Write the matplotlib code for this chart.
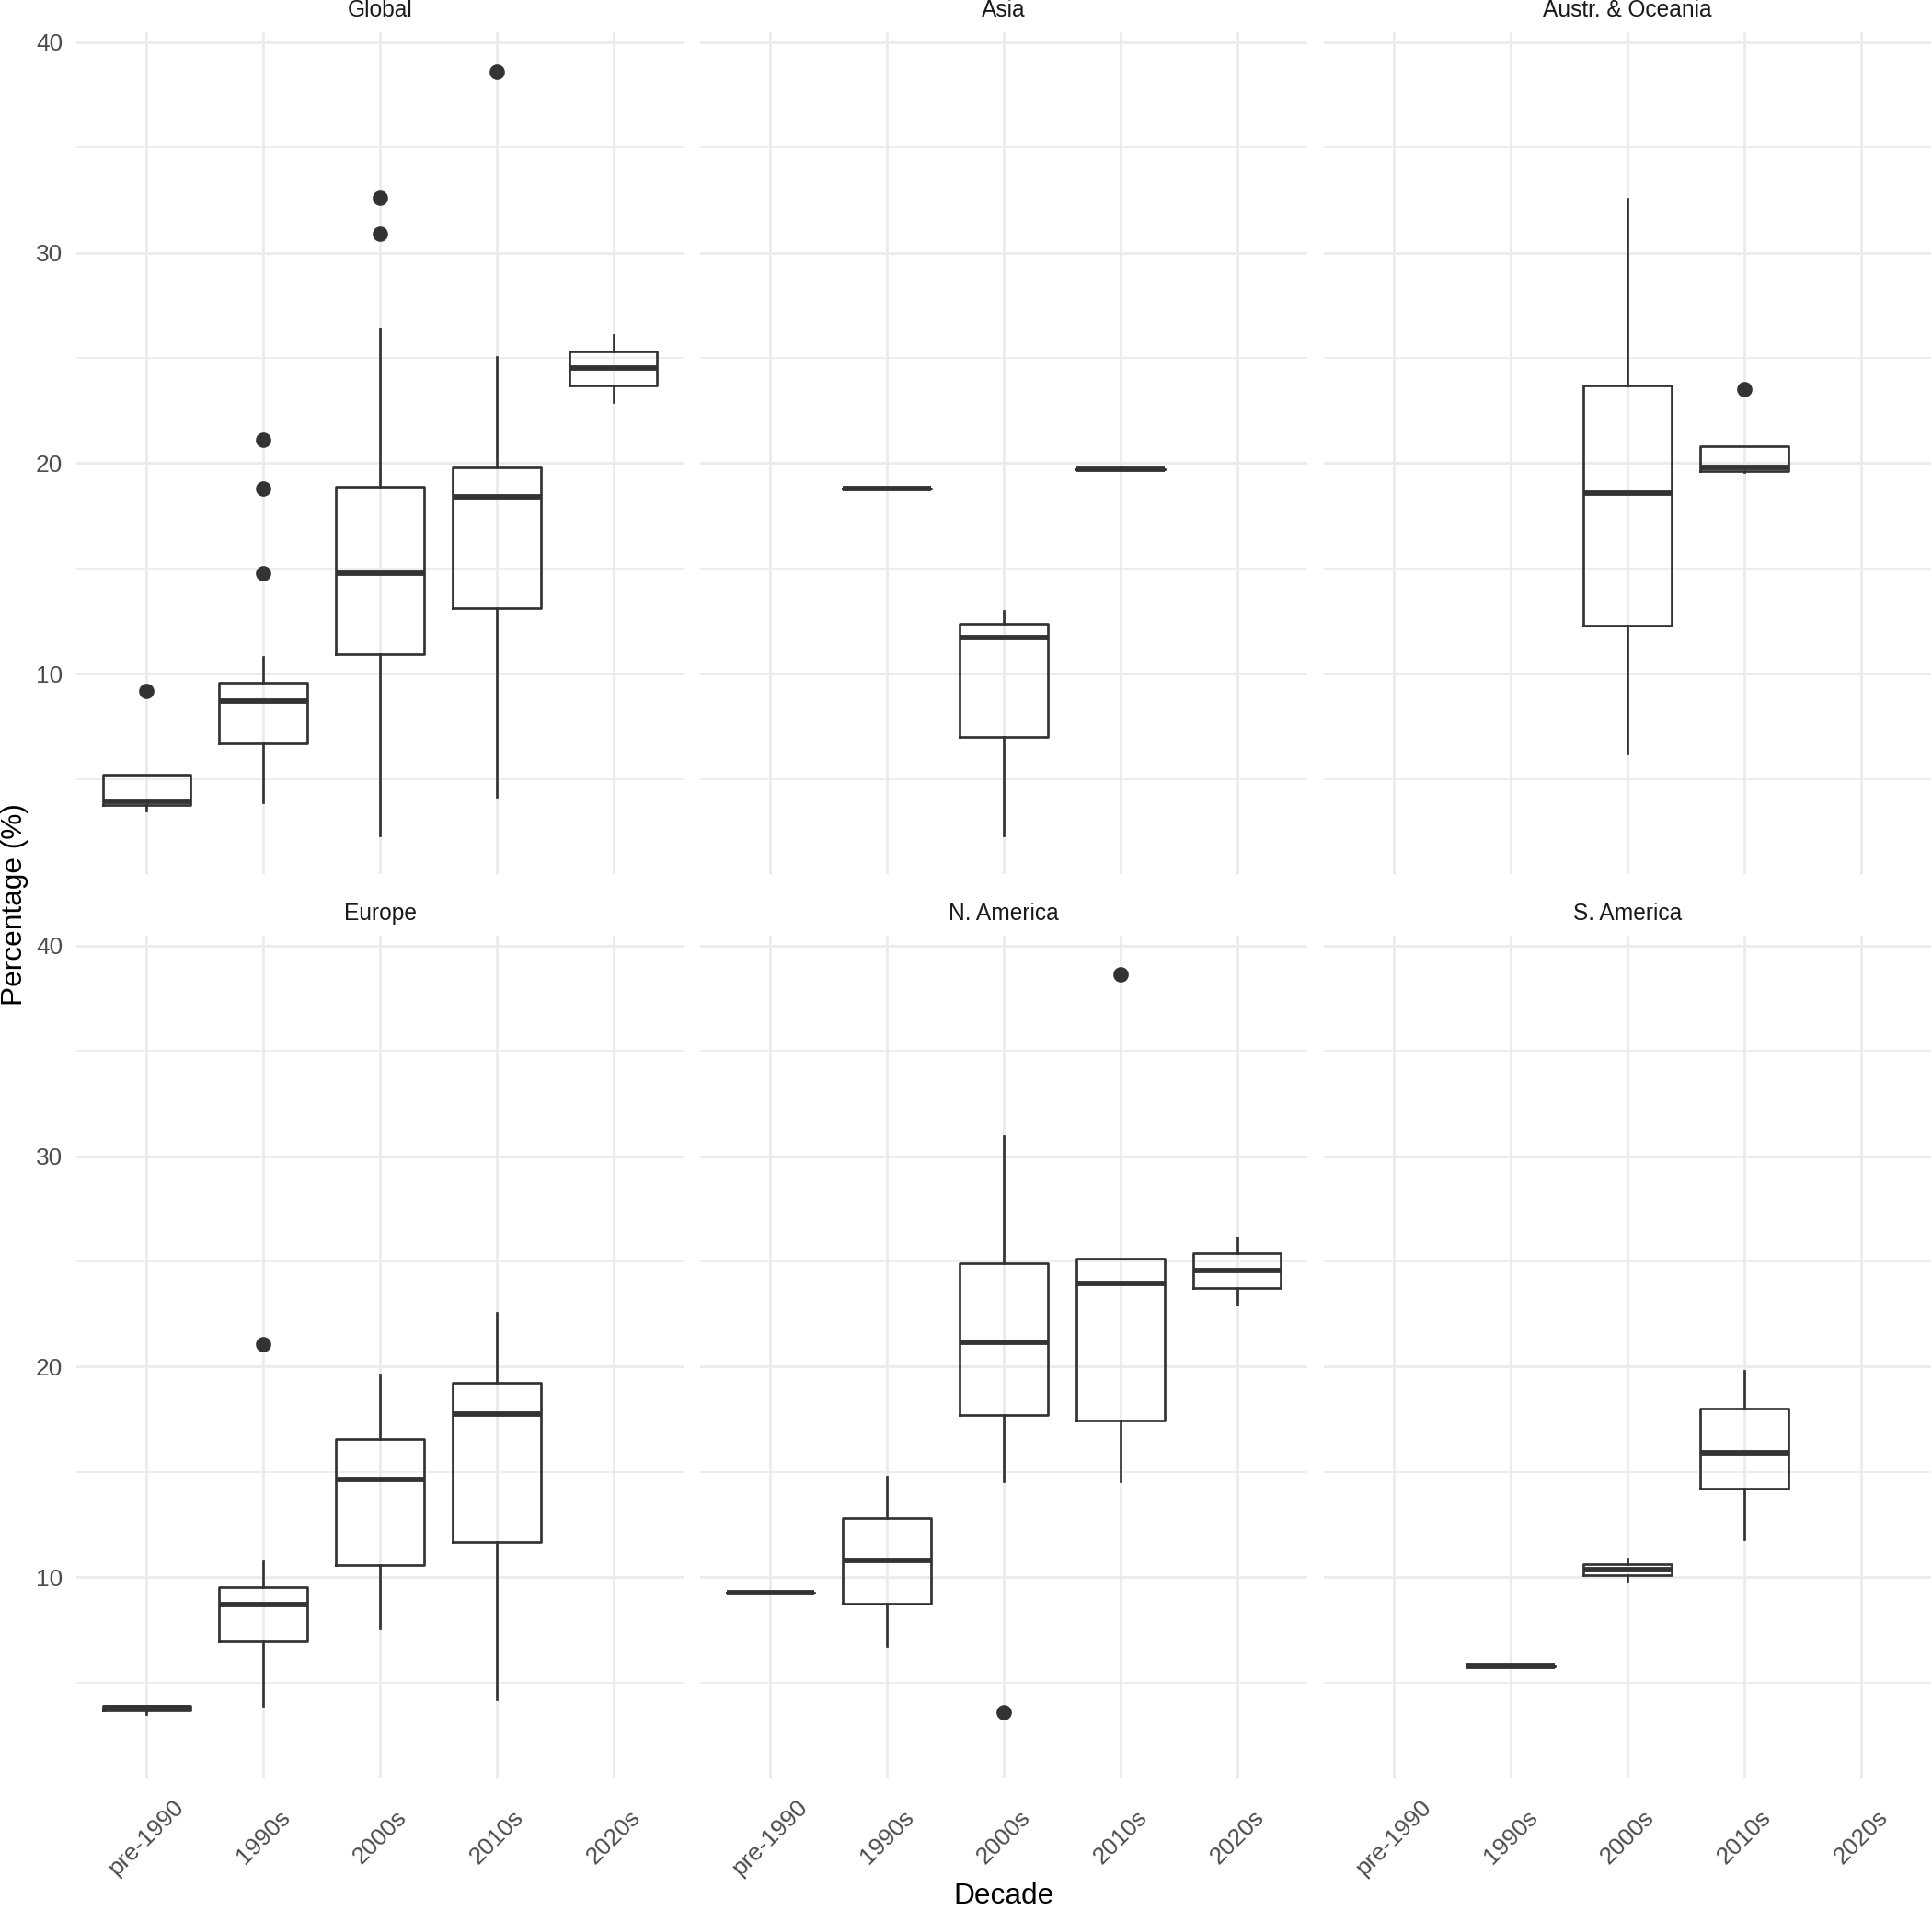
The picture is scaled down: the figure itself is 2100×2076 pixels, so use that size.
import matplotlib.pyplot as plt
from matplotlib.ticker import FixedLocator
import numpy as np

plt.rcParams['font.family'] = ['Liberation Sans', 'DejaVu Sans']

nan = np.nan

decades = ["pre-1990", "1990s", "2000s", "2010s", "2020s"]
regions = ["Global", "Asia", "Austr. & Oceania", "Europe", "N. America", "S. America"]

# box summaries: one row per region, one column per decade
q1 = [
    [3.74, 6.68, 10.94, 13.1, 23.7],
    [nan, 18.8, 6.98, 19.7, nan],
    [nan, nan, 12.3, 19.63, nan],
    [3.68, 6.96, 10.56, 11.65, nan],
    [9.25, 8.72, 17.68, 17.43, 23.72],
    [nan, 5.79, 10.08, 14.21, nan],
]
med = [
    [3.93, 8.69, 14.79, 18.4, 24.5],
    [nan, 18.8, 11.71, 19.7, nan],
    [nan, nan, 18.58, 19.79, nan],
    [3.8, 8.68, 14.63, 17.75, nan],
    [9.25, 10.78, 21.17, 23.93, 24.56],
    [nan, 5.79, 10.34, 15.9, nan],
]
q3 = [
    [5.21, 9.57, 18.88, 19.79, 25.3],
    [nan, 18.8, 12.35, 19.7, nan],
    [nan, nan, 23.69, 20.8, nan],
    [3.9, 9.52, 16.56, 19.24, nan],
    [9.25, 12.8, 24.93, 25.12, 25.37],
    [nan, 5.79, 10.61, 18.0, nan],
]
whislo = [
    [3.5, 3.9, 2.3, 4.17, 22.9],
    [nan, 18.8, 2.3, 19.7, nan],
    [nan, nan, 6.2, 19.57, nan],
    [3.5, 3.87, 7.54, 4.21, nan],
    [9.25, 6.73, 14.54, 14.57, 22.94],
    [nan, 5.79, 9.81, 11.79, nan],
]
whishi = [
    [5.21, 10.78, 26.39, 25.05, 26.1],
    [nan, 18.8, 12.97, 19.7, nan],
    [nan, nan, 32.57, 20.8, nan],
    [3.9, 10.75, 19.61, 22.53, nan],
    [9.25, 14.79, 30.96, 25.12, 26.14],
    [nan, 5.79, 10.9, 19.8, nan],
]
outliers = [
    [[9.2], [21.1, 18.8, 14.79], [32.6, 30.9], [38.6], []],
    [[], [], [], [], []],
    [[], [], [], [23.5], []],
    [[], [21.08], [], [], []],
    [[], [], [3.6], [38.65], []],
    [[], [], [], [], []],
]

# shared y range, ggplot style 5% expansion
allv = [v for tab in (whislo, whishi) for row in tab for v in row if not np.isnan(v)]
allv += [v for row in outliers for cell in row for v in cell]
lo, hi = min(allv), max(allv)
pad = (hi - lo) * 0.05
ylim = (lo - pad, hi + pad)

W, H = 2100, 2076
fig = plt.figure(figsize=(W / 300, H / 300), dpi=300)

col_left = [83, 761, 1439]
row_top = [35, 1017]
pw, ph = 660, 915

dark = '#333333'
grid_c = '#EBEBEB'

for i, reg in enumerate(regions):
    r, c = divmod(i, 3)
    ax = fig.add_axes([col_left[c] / W, 1 - (row_top[r] + ph) / H, pw / W, ph / H])

    stats, pos = [], []
    for j in range(len(decades)):
        if np.isnan(med[i][j]):
            continue
        stats.append(dict(med=med[i][j], q1=q1[i][j], q3=q3[i][j],
                          whislo=whislo[i][j], whishi=whishi[i][j],
                          fliers=outliers[i][j]))
        pos.append(j)

    ax.bxp(stats, positions=pos, widths=0.75, showcaps=False,
           boxprops=dict(color=dark, lw=0.65),
           whiskerprops=dict(color=dark, lw=0.65),
           medianprops=dict(color=dark, lw=1.4, solid_capstyle='butt'),
           flierprops=dict(marker='o', mfc=dark, mec=dark, ms=3.0, lw=0))

    ax.set_xlim(-0.6, len(decades) - 0.4)
    ax.set_ylim(*ylim)
    ax.set_xticks(range(len(decades)))
    ax.set_yticks([10, 20, 30, 40])
    ax.yaxis.set_minor_locator(FixedLocator([5, 15, 25, 35]))
    ax.set_axisbelow(True)
    ax.grid(which='major', color=grid_c, lw=0.65)
    ax.grid(which='minor', axis='y', color=grid_c, lw=0.4)
    for s in ax.spines.values():
        s.set_visible(False)
    ax.tick_params(which='both', length=0)
    ax.tick_params(axis='y', labelsize=6.3, labelcolor='#4D4D4D', pad=3.6)

    if r == 1:
        ax.set_xticklabels(decades, rotation=45, ha='center', va='center',
                           rotation_mode='anchor', fontsize=6.3, color='#4D4D4D')
        ax.tick_params(axis='x', pad=15.6)
    else:
        ax.set_xticklabels([])
    if c != 0:
        ax.set_yticklabels([])

    ax.set_title(reg, fontsize=5.9, color='#1A1A1A', pad=4)

fig.text(1091 / W, 7 / H, "Decade", ha='center', va='baseline', fontsize=7.6)
fig.text(0.0005, 1 - 983 / H, "Percentage (%)", rotation=90, ha='left', va='center',
         fontsize=7.6)

fig.savefig("out.png", dpi=300, facecolor='white')
